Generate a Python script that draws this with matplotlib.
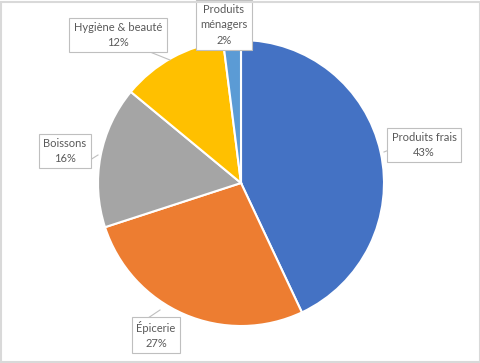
import matplotlib
matplotlib.use("Agg")
import matplotlib.pyplot as plt
from matplotlib.patches import Rectangle
import numpy as np

categories = ["Produits frais", "Épicerie", "Boissons", "Hygiène & beauté", "Produits\nménagers"]
values = [43, 27, 16, 12, 2]
colors = ["#4472C4", "#ED7D31", "#A5A5A5", "#FFC000", "#5B9BD5"]

W, H = 481, 363
fig = plt.figure(figsize=(W / 100, H / 100), dpi=100)
ax = fig.add_axes([0, 0, 1, 1])
ax.set_xlim(0, W)
ax.set_ylim(0, H)
ax.set_aspect("equal")
ax.axis("off")

cx, cy, r = 241, H - 183, 143
wedges, _ = ax.pie(values, colors=colors, startangle=90, counterclock=False,
                   center=(cx, cy), radius=r,
                   wedgeprops=dict(edgecolor="white", linewidth=1.5))
ax.set_xlim(0, W)
ax.set_ylim(0, H)

# label box centres (pixel coords, top-left origin)
label_pos = [(424, 145), (156, 335), (65, 151), (118, 35), (224, 25)]
for i, (cat, v) in enumerate(zip(categories, values)):
    lx, ly = label_pos[i]
    ly = H - ly
    txt = f"{cat}\n{v}%"
    ax.text(lx, ly, txt, ha="center", va="center", fontsize=8,
            color="#595959", family="Lato", linespacing=1.45,
            bbox=dict(boxstyle="square,pad=0.4", facecolor="white",
                      edgecolor="#BFBFBF", linewidth=0.8), zorder=5)

# leader lines (short connectors from box edge to slice edge)
leaders = [((389, 150), (384, 152)), ((148, 318), (160, 310)),
           ((90, 160), (98, 155)), ((150, 52), (170, 60)), ((240, 48), (238, 44))]
for (x0, y0), (x1, y1) in leaders:
    ax.plot([x0, x1], [H - y0, H - y1], color="#BFBFBF", lw=0.8, zorder=4)

fig.patches.append(Rectangle((0.5, 1.5), W - 2, H - 3, transform=None,
                             fill=False, edgecolor="#D9D9D9", linewidth=1.5))
fig.savefig("out.png", dpi=100, facecolor="white")
